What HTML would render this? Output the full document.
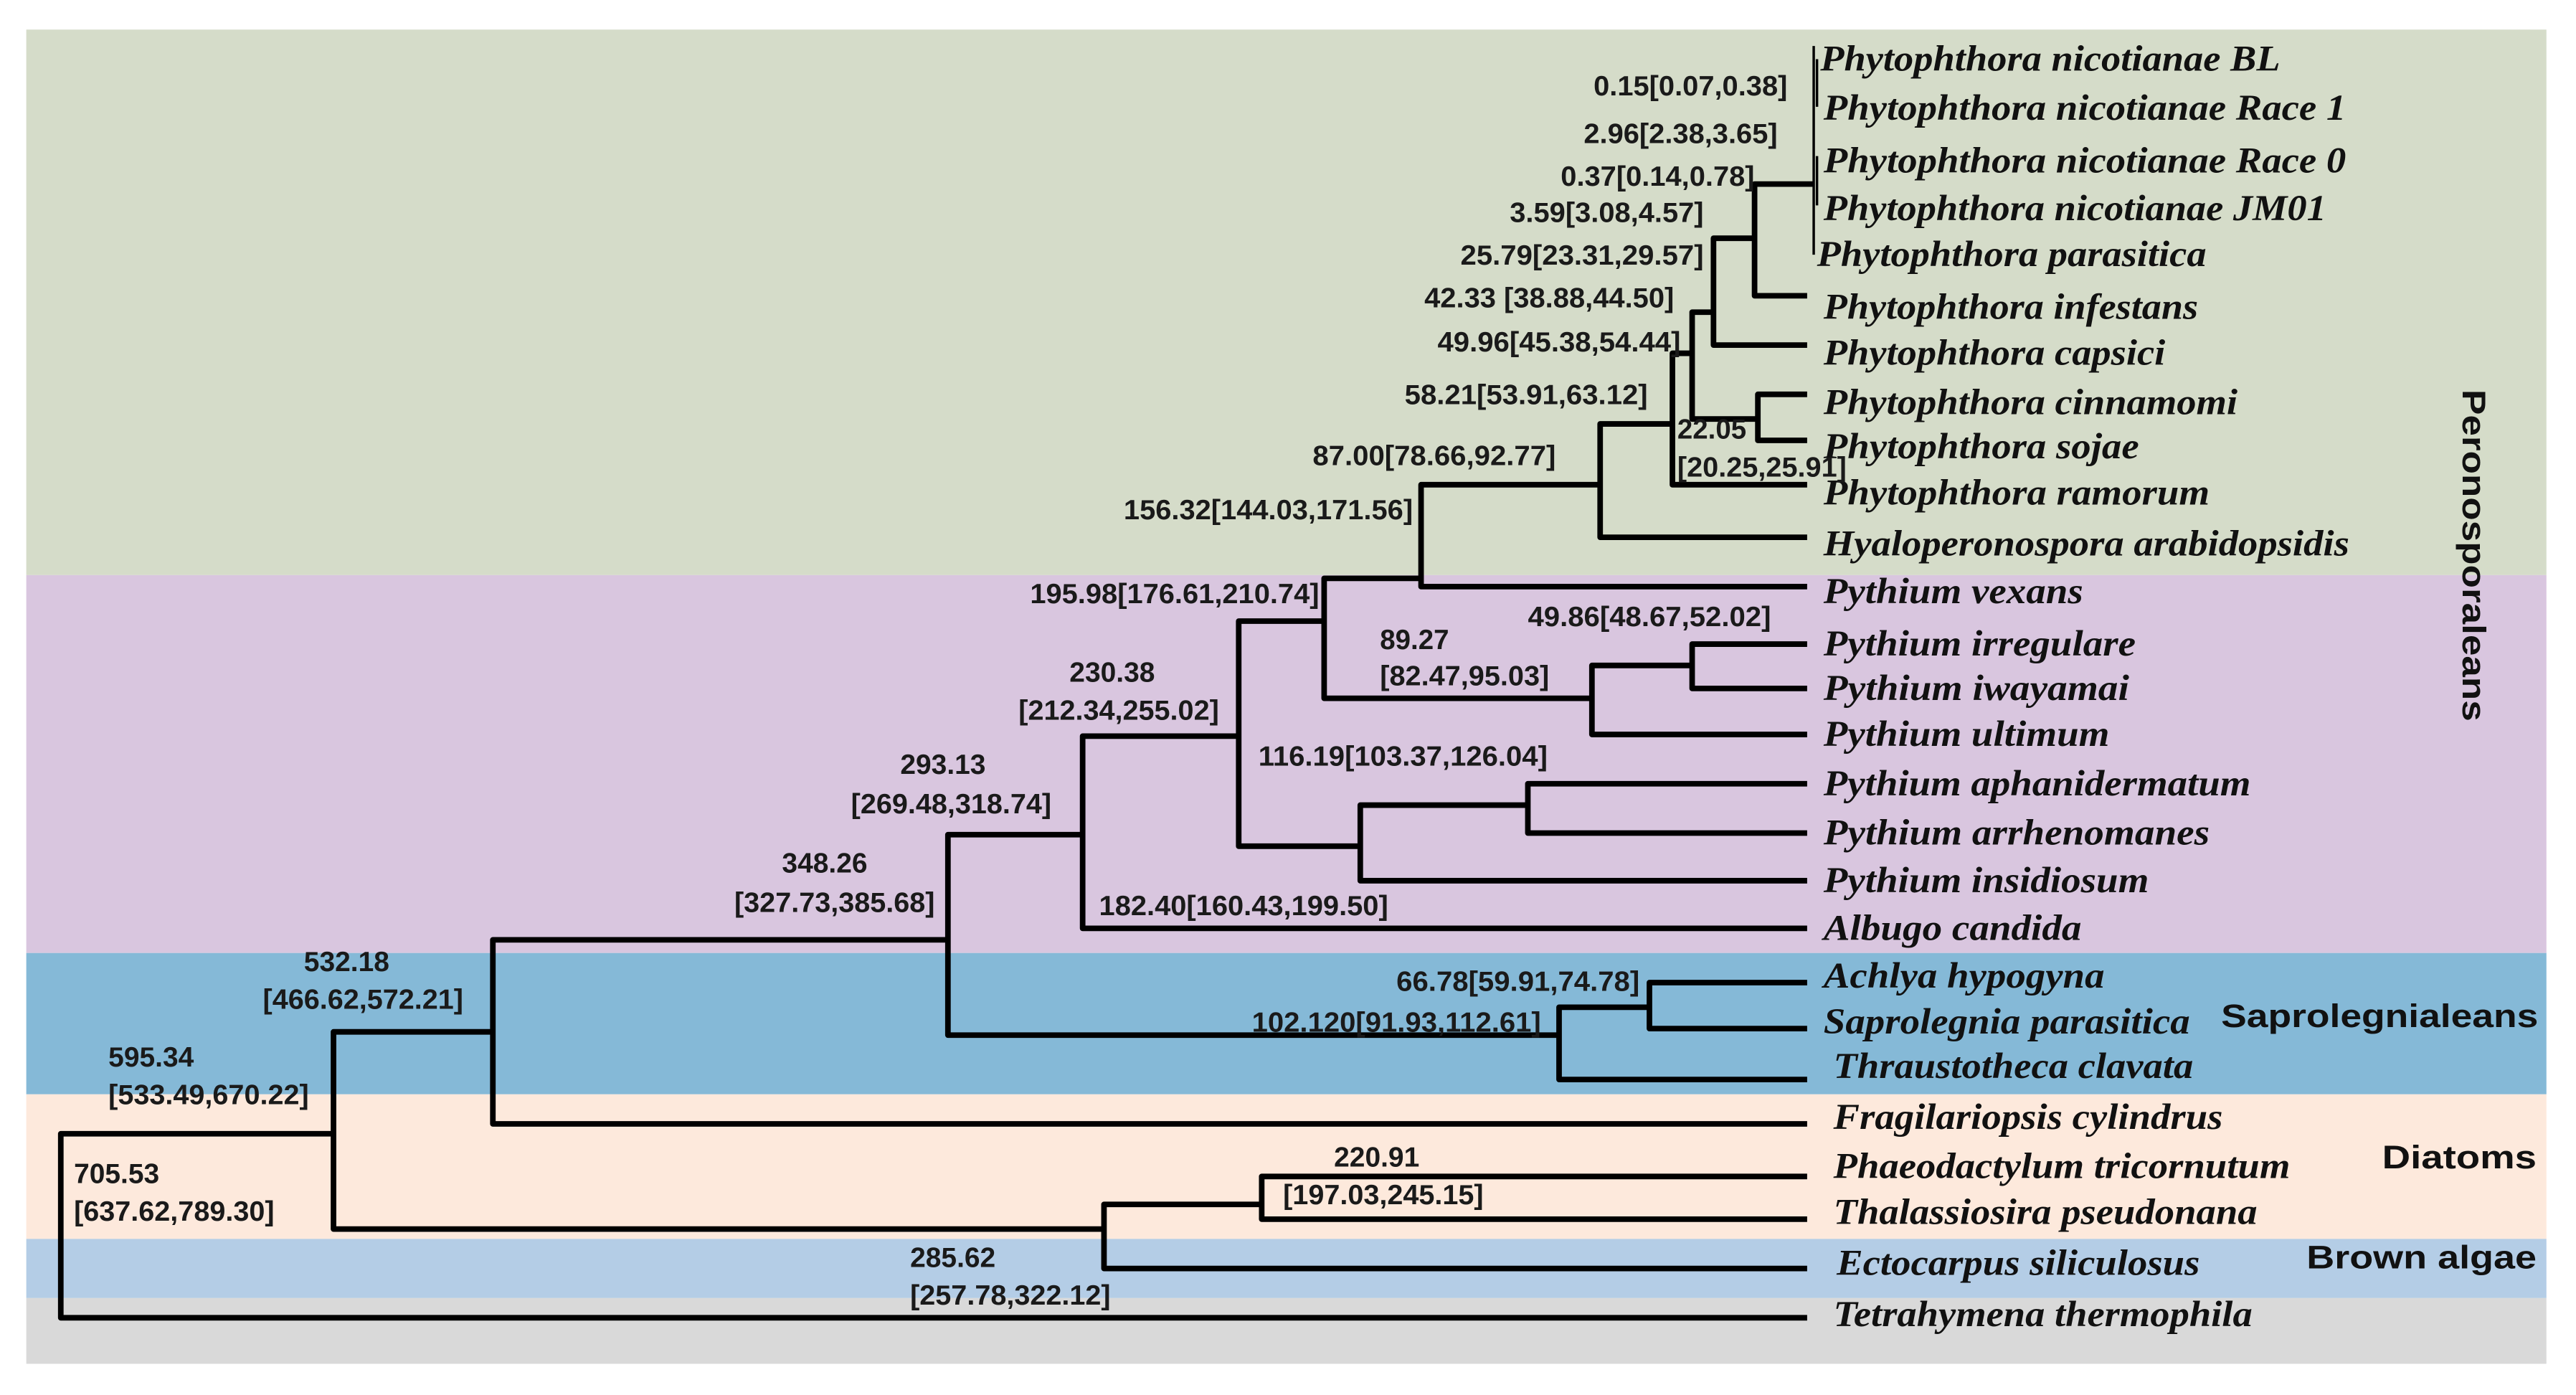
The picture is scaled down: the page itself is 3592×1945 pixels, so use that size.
<!DOCTYPE html>
<html><head><meta charset="utf-8"><style>
html,body{margin:0;padding:0;background:#fff;}
svg{display:block;}
.t{font-family:"Liberation Serif",serif;font-style:italic;font-weight:bold;font-size:22px;fill:#111;}
.n{font-family:"Liberation Sans Narrow","Liberation Sans",sans-serif;font-weight:bold;font-size:17px;fill:#1a1a1a;}
.g{font-family:"Liberation Sans",sans-serif;font-weight:bold;font-size:20px;fill:#111;}
path{fill:none;stroke:#000;stroke-width:3.4;stroke-linejoin:round;stroke-linecap:butt;}
</style></head><body>
<svg width="3592" height="1945" viewBox="0 0 1568 849" preserveAspectRatio="none" xmlns="http://www.w3.org/2000/svg">
<rect x="0" y="0" width="1568" height="849" fill="#fff"/>
<rect x="16" y="18" width="1534" height="332" fill="#d5dcc9"/>
<rect x="16" y="350" width="1534" height="230" fill="#d9c6df"/>
<rect x="16" y="580" width="1534" height="86" fill="#85b9d7"/>
<rect x="16" y="666" width="1534" height="88" fill="#fde9dc"/>
<rect x="16" y="754" width="1534" height="36" fill="#b4cde6"/>
<rect x="16" y="790" width="1534" height="40" fill="#d9d9d9"/>

<path d="M1104,28 V155" style="stroke-width:1.5"/>
<path d="M1106,36 V65 M1106,95 V125" style="stroke-width:1.5"/>
<path d="M1104,112 H1068 V180 H1100"/>
<path d="M1068,145 H1043 V210 H1100"/>
<path d="M1043,190 H1030 V255 H1070"/>
<path d="M1100,240 H1070 V268 H1100"/>
<path d="M1030,215 H1018 V295 H1100"/>
<path d="M1018,258 H974 V327 H1100"/>
<path d="M974,295 H865 V357 H1100"/>
<path d="M865,352 H806 V425 H969"/>
<path d="M1030,405 H969 V447 H1100"/>
<path d="M1100,392 H1030 V419 H1100"/>
<path d="M806,378 H754 V515 H828"/>
<path d="M930,490 H828 V536 H1100"/>
<path d="M1100,477 H930 V507 H1100"/>
<path d="M754,448 H659 V565 H1100"/>
<path d="M659,508 H577 V630 H949"/>
<path d="M1004,613 H949 V657 H1100"/>
<path d="M1100,598 H1004 V626 H1100"/>
<path d="M577,572 H300 V684 H1100"/>
<path d="M300,628 H203 V748 H672"/>
<path d="M768,733 H672 V772 H1100"/>
<path d="M1100,716 H768 V742 H1100"/>
<path d="M203,690 H37 V802 H1100"/>

<g class="t">
<text x="1108" y="43" textLength="280" lengthAdjust="spacingAndGlyphs">Phytophthora nicotianae BL</text>
<text x="1110" y="73" textLength="318" lengthAdjust="spacingAndGlyphs">Phytophthora nicotianae Race 1</text>
<text x="1110" y="105" textLength="318" lengthAdjust="spacingAndGlyphs">Phytophthora nicotianae Race 0</text>
<text x="1110" y="134" textLength="306" lengthAdjust="spacingAndGlyphs">Phytophthora nicotianae JM01</text>
<text x="1106" y="162" textLength="237" lengthAdjust="spacingAndGlyphs">Phytophthora parasitica</text>
<text x="1110" y="194" textLength="228" lengthAdjust="spacingAndGlyphs">Phytophthora infestans</text>
<text x="1110" y="222" textLength="208" lengthAdjust="spacingAndGlyphs">Phytophthora capsici</text>
<text x="1110" y="252" textLength="252" lengthAdjust="spacingAndGlyphs">Phytophthora cinnamomi</text>
<text x="1110" y="279" textLength="192" lengthAdjust="spacingAndGlyphs">Phytophthora sojae</text>
<text x="1110" y="307" textLength="235" lengthAdjust="spacingAndGlyphs">Phytophthora ramorum</text>
<text x="1110" y="338" textLength="320" lengthAdjust="spacingAndGlyphs">Hyaloperonospora arabidopsidis</text>
<text x="1110" y="367" textLength="158" lengthAdjust="spacingAndGlyphs">Pythium vexans</text>
<text x="1110" y="399" textLength="190" lengthAdjust="spacingAndGlyphs">Pythium irregulare</text>
<text x="1110" y="426" textLength="186" lengthAdjust="spacingAndGlyphs">Pythium iwayamai</text>
<text x="1110" y="454" textLength="174" lengthAdjust="spacingAndGlyphs">Pythium ultimum</text>
<text x="1110" y="484" textLength="260" lengthAdjust="spacingAndGlyphs">Pythium aphanidermatum</text>
<text x="1110" y="514" textLength="235" lengthAdjust="spacingAndGlyphs">Pythium arrhenomanes</text>
<text x="1110" y="543" textLength="198" lengthAdjust="spacingAndGlyphs">Pythium insidiosum</text>
<text x="1110" y="572" textLength="157" lengthAdjust="spacingAndGlyphs">Albugo candida</text>
<text x="1110" y="601" textLength="171" lengthAdjust="spacingAndGlyphs">Achlya hypogyna</text>
<text x="1110" y="629" textLength="223" lengthAdjust="spacingAndGlyphs">Saprolegnia parasitica</text>
<text x="1116" y="656" textLength="219" lengthAdjust="spacingAndGlyphs">Thraustotheca clavata</text>
<text x="1116" y="687" textLength="237" lengthAdjust="spacingAndGlyphs">Fragilariopsis cylindrus</text>
<text x="1116" y="717" textLength="278" lengthAdjust="spacingAndGlyphs">Phaeodactylum tricornutum</text>
<text x="1116" y="745" textLength="258" lengthAdjust="spacingAndGlyphs">Thalassiosira pseudonana</text>
<text x="1118" y="776" textLength="221" lengthAdjust="spacingAndGlyphs">Ectocarpus siliculosus</text>
<text x="1116" y="807" textLength="255" lengthAdjust="spacingAndGlyphs">Tetrahymena thermophila</text>
</g>

<g class="n">
<text x="970" y="58" textLength="118" lengthAdjust="spacingAndGlyphs">0.15[0.07,0.38]</text>
<text x="964" y="87" textLength="118" lengthAdjust="spacingAndGlyphs">2.96[2.38,3.65]</text>
<text x="950" y="113" textLength="118" lengthAdjust="spacingAndGlyphs">0.37[0.14,0.78]</text>
<text x="919" y="135" textLength="118" lengthAdjust="spacingAndGlyphs">3.59[3.08,4.57]</text>
<text x="889" y="161" textLength="148" lengthAdjust="spacingAndGlyphs">25.79[23.31,29.57]</text>
<text x="867" y="187" textLength="152" lengthAdjust="spacingAndGlyphs">42.33 [38.88,44.50]</text>
<text x="875" y="214" textLength="148" lengthAdjust="spacingAndGlyphs">49.96[45.38,54.44]</text>
<text x="855" y="246" textLength="148" lengthAdjust="spacingAndGlyphs">58.21[53.91,63.12]</text>
<text x="1021" y="267" textLength="42" lengthAdjust="spacingAndGlyphs">22.05</text>
<text x="1021" y="290" textLength="103" lengthAdjust="spacingAndGlyphs">[20.25,25.91]</text>
<text x="799" y="283" textLength="148" lengthAdjust="spacingAndGlyphs">87.00[78.66,92.77]</text>
<text x="684" y="316" textLength="176" lengthAdjust="spacingAndGlyphs">156.32[144.03,171.56]</text>
<text x="627" y="367" textLength="176" lengthAdjust="spacingAndGlyphs">195.98[176.61,210.74]</text>
<text x="840" y="395" textLength="42" lengthAdjust="spacingAndGlyphs">89.27</text>
<text x="840" y="417" textLength="103" lengthAdjust="spacingAndGlyphs">[82.47,95.03]</text>
<text x="930" y="381" textLength="148" lengthAdjust="spacingAndGlyphs">49.86[48.67,52.02]</text>
<text x="651" y="415" textLength="52" lengthAdjust="spacingAndGlyphs">230.38</text>
<text x="620" y="438" textLength="122" lengthAdjust="spacingAndGlyphs">[212.34,255.02]</text>
<text x="766" y="466" textLength="176" lengthAdjust="spacingAndGlyphs">116.19[103.37,126.04]</text>
<text x="548" y="471" textLength="52" lengthAdjust="spacingAndGlyphs">293.13</text>
<text x="518" y="495" textLength="122" lengthAdjust="spacingAndGlyphs">[269.48,318.74]</text>
<text x="476" y="531" textLength="52" lengthAdjust="spacingAndGlyphs">348.26</text>
<text x="447" y="555" textLength="122" lengthAdjust="spacingAndGlyphs">[327.73,385.68]</text>
<text x="669" y="557" textLength="176" lengthAdjust="spacingAndGlyphs">182.40[160.43,199.50]</text>
<text x="185" y="591" textLength="52" lengthAdjust="spacingAndGlyphs">532.18</text>
<text x="160" y="614" textLength="122" lengthAdjust="spacingAndGlyphs">[466.62,572.21]</text>
<text x="850" y="603" textLength="148" lengthAdjust="spacingAndGlyphs">66.78[59.91,74.78]</text>
<text x="762" y="628" textLength="176" lengthAdjust="spacingAndGlyphs">102.120[91.93,112.61]</text>
<text x="66" y="649" textLength="52" lengthAdjust="spacingAndGlyphs">595.34</text>
<text x="66" y="672" textLength="122" lengthAdjust="spacingAndGlyphs">[533.49,670.22]</text>
<text x="45" y="720" textLength="52" lengthAdjust="spacingAndGlyphs">705.53</text>
<text x="45" y="743" textLength="122" lengthAdjust="spacingAndGlyphs">[637.62,789.30]</text>
<text x="812" y="710" textLength="52" lengthAdjust="spacingAndGlyphs">220.91</text>
<text x="781" y="733" textLength="122" lengthAdjust="spacingAndGlyphs">[197.03,245.15]</text>
<text x="554" y="771" textLength="52" lengthAdjust="spacingAndGlyphs">285.62</text>
<text x="554" y="794" textLength="122" lengthAdjust="spacingAndGlyphs">[257.78,322.12]</text>
</g>

<g class="g">
<text transform="translate(1499,237) rotate(90)" textLength="202" lengthAdjust="spacingAndGlyphs">Peronosporaleans</text>
<text x="1352" y="625" textLength="193" lengthAdjust="spacingAndGlyphs">Saprolegnialeans</text>
<text x="1450" y="711" textLength="94" lengthAdjust="spacingAndGlyphs">Diatoms</text>
<text x="1404" y="772" textLength="140" lengthAdjust="spacingAndGlyphs">Brown algae</text>
</g>
</svg>
</body></html>
